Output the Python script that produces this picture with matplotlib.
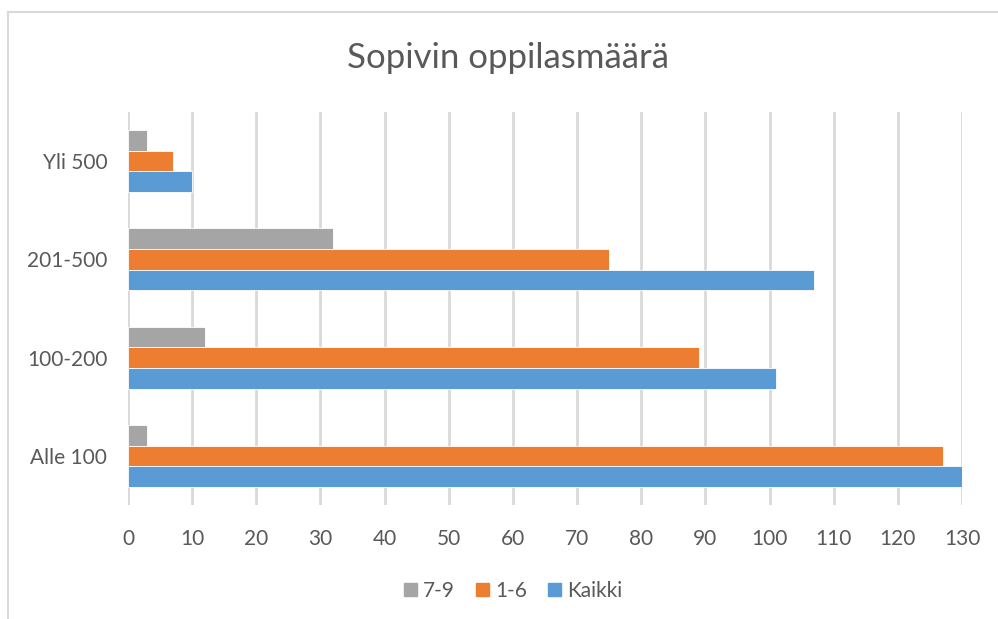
import numpy as np
import matplotlib
matplotlib.use('Agg')
import matplotlib.pyplot as plt
from matplotlib.lines import Line2D
from matplotlib.patches import Patch

categories = ['Alle 100', '100-200', '201-500', 'Yli 500']
series_names = ['7-9', '1-6', 'Kaikki']
vals_79 = [3, 12, 32, 3]
vals_16 = [127, 89, 75, 7]
vals_kaikki = [130, 101, 107, 10]
x_ticks = list(range(0, 131, 10))

colors = {'7-9': '#A5A5A5', '1-6': '#ED7D31', 'Kaikki': '#5B9BD5'}
text_col = '#595959'
grid_col = '#D9D9D9'

plt.rcParams['font.family'] = ['Lato', 'DejaVu Sans']

fig = plt.figure(figsize=(9.98, 6.19), dpi=100)
ax = fig.add_axes([128/998, 114/619, 834/998, 393/619])

y = np.arange(len(categories))
h = 0.21
ax.barh(y + h, vals_79, height=h, color=colors['7-9'], edgecolor='white', linewidth=0.6, zorder=3)
ax.barh(y, vals_16, height=h, color=colors['1-6'], edgecolor='white', linewidth=0.6, zorder=3)
ax.barh(y - h, vals_kaikki, height=h, color=colors['Kaikki'], edgecolor='white', linewidth=0.6, zorder=3)

ax.set_xlim(0, 130)
ax.set_ylim(-0.5, len(categories) - 0.5)
ax.set_xticks(x_ticks)
ax.set_yticks(y)
ax.set_yticklabels(categories)
ax.tick_params(axis='both', length=0, labelsize=15, labelcolor=text_col)
ax.tick_params(axis='x', pad=17)
ax.tick_params(axis='y', pad=15)
ax.xaxis.grid(True, color=grid_col, linewidth=2, zorder=0)
ax.set_axisbelow(True)
for s in ax.spines.values():
    s.set_visible(False)

fig.text(508/998, 1 - 58/619, 'Sopivin oppilasmäärä', ha='center', va='center',
         fontsize=25, color=text_col)

handles = [Patch(color=colors[n]) for n in series_names]
fig.legend(handles, series_names, loc='center', bbox_to_anchor=(513/998, 1 - 591/619),
           ncol=3, frameon=False, fontsize=15, labelcolor=text_col,
           handlelength=0.62, handleheight=0.62, handletextpad=0.3, columnspacing=1.0)

# chart border (only left and top visible in the crop)
fig.add_artist(Line2D([8/998, 8/998], [0, 1 - 12/619], transform=fig.transFigure,
                      color=grid_col, linewidth=1.5))
fig.add_artist(Line2D([8/998, 1], [1 - 12/619, 1 - 12/619], transform=fig.transFigure,
                      color=grid_col, linewidth=1.5))

fig.savefig('out.png', dpi=100)
